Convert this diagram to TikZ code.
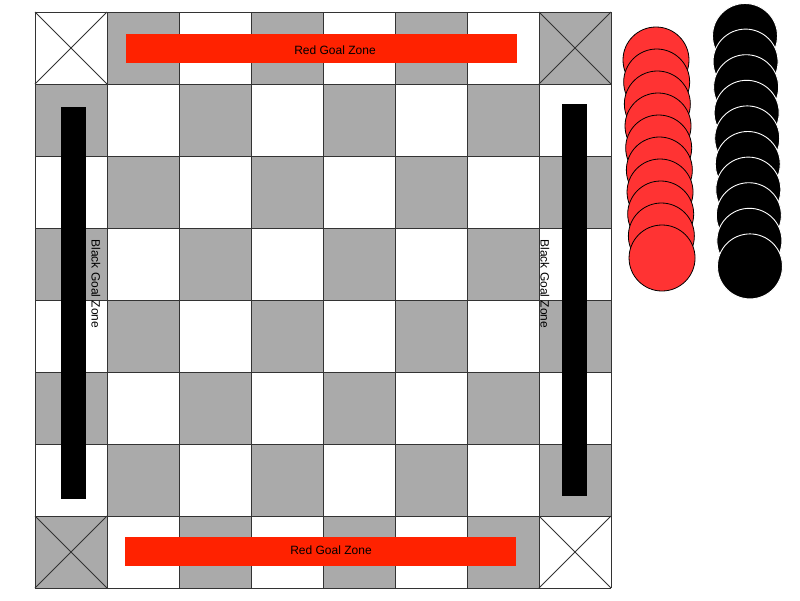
\documentclass[tikz,border=0pt]{standalone}
\usepackage{fontspec}
\setmainfont{Liberation Sans}
\usetikzlibrary{shapes}
\definecolor{cellgray}{HTML}{AAAAAA}
\definecolor{goalred}{HTML}{FF2200}
\definecolor{piecered}{HTML}{FF3333}
\definecolor{gridline}{HTML}{333333}
\tikzset{
  redzone/.style={fill=goalred,inner sep=0pt,minimum width=391pt,minimum height=29pt},
  blackzone/.style={fill=black,inner sep=0pt,minimum width=25pt,minimum height=392pt},
  zonelabel/.style={inner sep=0pt,font=\fontsize{12}{14}\selectfont},
  redpiece/.style={circle,draw=black,line width=0.8pt,fill=piecered,minimum size=66pt,inner sep=0pt},
  blackpiece/.style={circle,draw=white,line width=0.9pt,fill=black,minimum size=65pt,inner sep=0pt}
}
\begin{document}
\begin{tikzpicture}[x=1pt,y=-1pt]
\useasboundingbox (0,0) rectangle (800,600);
% board squares
\foreach \r in {0,...,7}{
  \foreach \c in {0,...,7}{
    \pgfmathtruncatemacro{\odd}{mod(\r+\c,2)}
    \ifnum\odd=1 \fill[cellgray] (35+72*\c,12+72*\r) rectangle ++(72,72); \fi
  }
}
\foreach \i in {0,...,8}{
  \draw[gridline,line width=0.8pt] (35+72*\i,12) -- (35+72*\i,588);
  \draw[gridline,line width=0.8pt] (35,12+72*\i) -- (611,12+72*\i);
}
% crossed corners
\foreach \cx/\cy in {35/12,539/12,35/516,539/516}
  \draw[gridline,line width=0.8pt] (\cx,\cy) -- ++(72,72) (\cx+72,\cy) -- ++(-72,72);
% goal zones
\node[redzone] (redtop)at(321.5,48) {};
\node[redzone] (redbottom)at(320.5,551.5) {};
\node[zonelabel] (redtoplabel)at(335,50.5) {Red Goal Zone};
\node[zonelabel] (redbottomlabel)at(331,550) {Red Goal Zone};
\node[blackzone] (blackleft)at(73.5,303) {};
\node[blackzone] (blackright)at(574.5,300) {};
\node[zonelabel,rotate=-90] (leftlabel)at(96,284) {Black Goal Zone};
\node[zonelabel,rotate=-90] (rightlabel)at(545,284) {Black Goal Zone};
% pieces
\foreach \i in {0,...,9}
  \node[redpiece] (red\i)at(656+0.67*\i,60+22*\i) {};
\foreach \i in {0,...,9}
  \node[blackpiece] (black\i)at(745+0.55*\i,36+25.6*\i) {};
\end{tikzpicture}
\end{document}
